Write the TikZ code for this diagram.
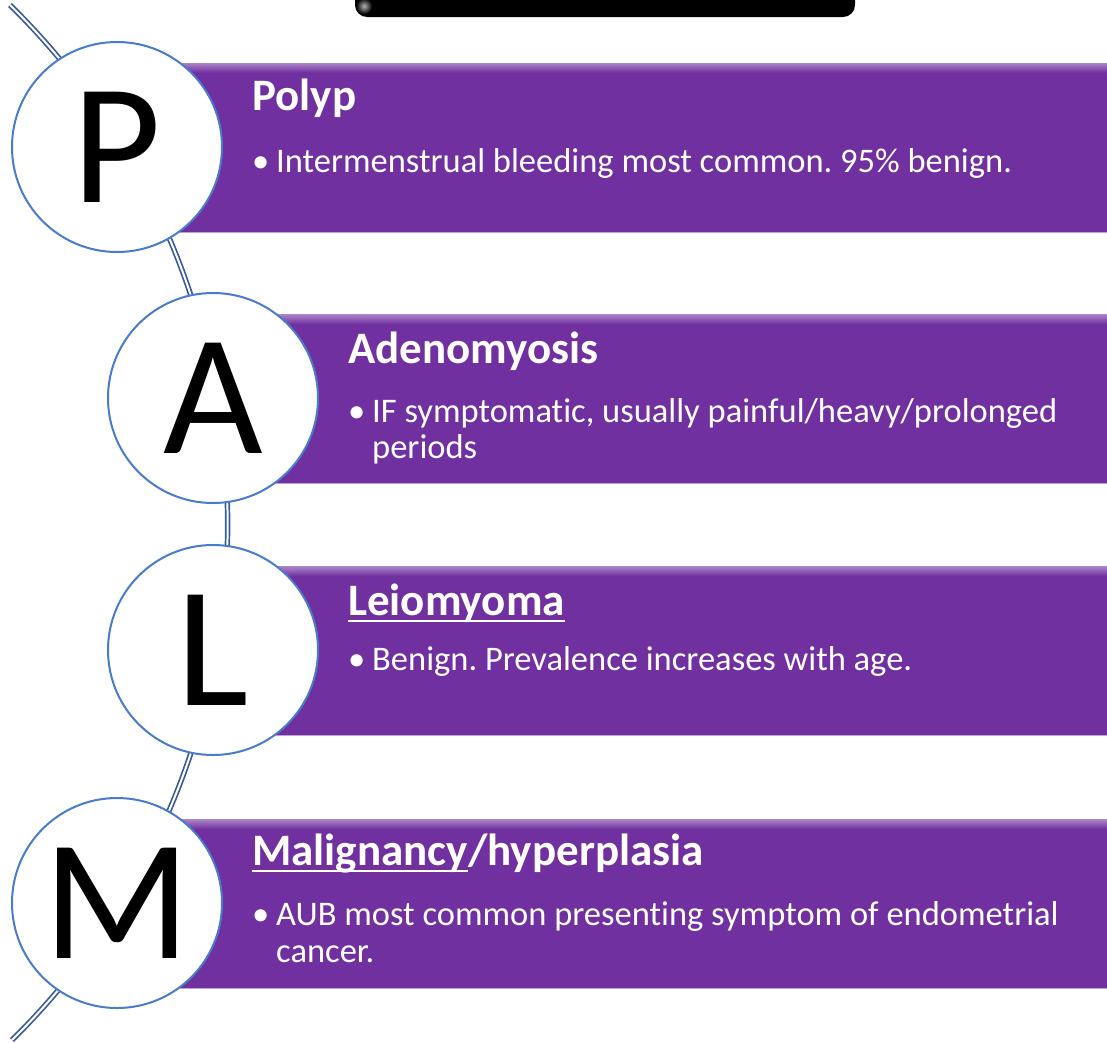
\documentclass[tikz,border=0pt]{standalone}
\usepackage{fontspec}
\setmainfont{Carlito}[Ligatures=NoCommon]
\usetikzlibrary{positioning,calc}
\definecolor{barpurple}{HTML}{7030A0}
\definecolor{barglow}{HTML}{C890FF}
\definecolor{ringblue}{HTML}{4A7BCC}
\definecolor{wireblue}{HTML}{3A5A9C}
\tikzset{
  letter/.style ={draw=ringblue, line width=2pt, circle, fill=white, minimum size=210pt, inner sep=0pt, font=\fontsize{172}{172}\selectfont},
  bar/.style    ={rectangle, fill=barpurple, draw=barpurple!45!white, line width=0.8pt, minimum height=169pt, minimum width=1000pt, anchor=west},
  title/.style  ={text=white, inner sep=0pt, anchor=base west, font=\fontsize{45}{52}\selectfont\bfseries},
  point/.style  ={text=white, inner sep=0pt, anchor=base west, font=\fontsize{34.5}{38}\selectfont},
  wire/.style   ={draw=wireblue, line width=1.7pt, double=white, double distance=2pt},
  uline/.style  ={draw=white, line width=2pt},
}
\begin{document}
\frenchspacing
\begin{tikzpicture}[x=1pt, y=1pt]
  \useasboundingbox (0,0) rectangle (1107,-1042);
  \clip (0,0) rectangle (1107,-1042);

  % bar at the top edge
  \node[fill=black, rounded corners=12pt, minimum width=500pt, minimum height=60pt, inner sep=0pt] (topbar) at (605,13) {};
  \shade[inner color=gray!60, outer color=black] (364,-6) circle (8pt);

  % wire behind the letters
  \coordinate (w0) at (10,-5);
  \coordinate (w1) at (12,-1040);
  \draw[wire] (w0) .. controls ($(w0)+(-44.5:405)$) and ($(w1)+(44.5:405)$) .. (w1);

  % bars
  \node[bar] (pbar) at (117,-147.5) {};
  \node[bar] (abar) at (213,-399) {};
  \node[bar] (lbar) at (213,-651) {};
  \node[bar] (mbar) at (117,-904) {};
  \foreach \b in {pbar,abar,lbar,mbar}
    \shade[top color=barpurple!60!white, middle color=barglow, bottom color=barpurple]
      ([xshift=0.4pt,yshift=-0.4pt]\b.north west) rectangle ([yshift=-10pt]\b.north east);

  % letters
  \node[letter] (pc) at (117,-147) {P};
  \node[letter] (ac) at (213,-398) {A};
  \node[letter] (lc) at (213,-650) {L};
  \node[letter] (mc) at (117,-903) {M};

  % P
  \node[title] (ptitle) at (252,-110) {Polyp};
  \node[point] (pdot) at (252,-172) {\textbullet};
  \node[point] (ptext) at (276,-172) {Intermenstrual bleeding most common. 95\% benign.};

  % A
  \node[title] (atitle) at (348,-363) {Adenomyosis};
  \node[point] (adot) at (348,-422) {\textbullet};
  \node[point] (atext) at (372,-422) {IF symptomatic, usually painful/heavy/prolonged};
  \node[point] (atext2) at ([yshift=-36pt]atext.base west) {periods};

  % L
  \node[title] (ltitle) at (348,-615) {Leiomyoma};
  \draw[uline] ([yshift=-6pt]ltitle.base west) -- ([yshift=-6pt]ltitle.base east);
  \node[point] (ldot) at (348,-670) {\textbullet};
  \node[point] (ltext) at (372,-670) {Benign. Prevalence increases with age.};

  % M
  \node[title] (mtitle) at (252,-865) {Malignancy};
  \node[title] (mtitle2) at (mtitle.base east) {/hyperplasia};
  \draw[uline] ([yshift=-6pt]mtitle.base west) -- ([yshift=-6pt]mtitle.base east);
  \node[point] (mdot) at (252,-925) {\textbullet};
  \node[point] (mtext) at (276,-925) {AUB most common presenting symptom of endometrial};
  \node[point] (mtext2) at ([yshift=-37pt]mtext.base west) {cancer.};
\end{tikzpicture}
\end{document}
